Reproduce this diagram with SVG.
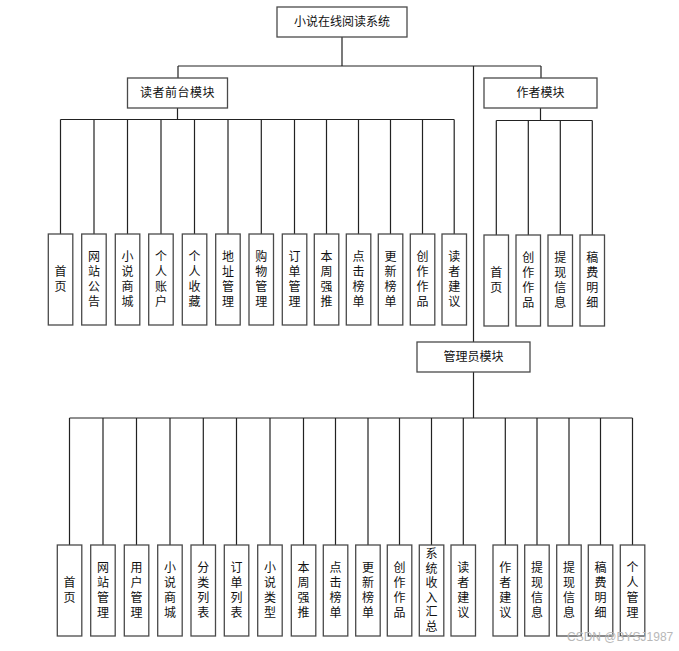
<svg xmlns="http://www.w3.org/2000/svg" width="679" height="651" viewBox="0 0 679 651" lang="zh-CN">
<style>
.box{fill:#fff;stroke:#4a4a4a;stroke-width:1.3}
.ln{fill:none;stroke:#222;stroke-width:1.2}
text{font-family:"Liberation Sans","Noto Sans CJK SC",sans-serif;font-size:12px;fill:#111;text-anchor:middle;dominant-baseline:central}
.wm{fill:#b8b8b8;font-family:"Liberation Sans",sans-serif;font-size:12px;text-anchor:start}
</style>
<rect width="679" height="651" fill="#fff"/>
<g id="connectors">
<path class="ln" d="M342 37V66M178 66H541M178 66V78M541 66V78M473.5 66V342"/>
<path class="ln" d="M177.5 108V119.5M60.5 119.5H454.2M60.5 119.5V234M94 119.5V234M127.5 119.5V234M161 119.5V234M194.5 119.5V234M228 119.5V234M261.3 119.5V234M294.5 119.5V234M326.5 119.5V234M358.5 119.5V234M390.5 119.5V234M422.5 119.5V234M454.2 119.5V234"/>
<path class="ln" d="M540.5 108V120.5M496.3 120.5H592.3M496.3 120.5V235M528.3 120.5V235M560.3 120.5V235M592.3 120.5V235"/>
<path class="ln" d="M473.5 372V418M69.5 418H632.5M69.5 418V545M103 418V545M136.5 418V545M170 418V545M203.3 418V545M236.5 418V545M270 418V545M303.5 418V545M335.5 418V545M368 418V545M399.5 418V545M431.5 418V545M463.3 418V545M505.3 418V545M537 418V545M569 418V545M600.5 418V545M632.5 418V545"/>
</g>
<g id="root"><rect class="box" x="277" y="7" width="130" height="30"/><text x="342" y="22">小说在线阅读系统</text></g>
<g id="reader"><rect class="box" x="127.5" y="78" width="100" height="30"/><text x="177.5" y="93" letter-spacing="0.5">读者前台模块</text></g>
<g id="author"><rect class="box" x="484" y="78" width="113" height="30"/><text x="540.5" y="93">作者模块</text></g>
<g id="admin"><rect class="box" x="417" y="342" width="113" height="30"/><text x="473.5" y="357">管理员模块</text></g>

<g id="r1"><rect class="box" x="48.3" y="234" width="24.5" height="91"/><text><tspan x="60.5" y="272">首</tspan><tspan x="60.5" y="287">页</tspan></text></g>
<g id="r2"><rect class="box" x="81.7" y="234" width="24.5" height="91"/><text><tspan x="94" y="257">网</tspan><tspan x="94" y="272">站</tspan><tspan x="94" y="287">公</tspan><tspan x="94" y="302">告</tspan></text></g>
<g id="r3"><rect class="box" x="115.3" y="234" width="24.5" height="91"/><text><tspan x="127.5" y="257">小</tspan><tspan x="127.5" y="272">说</tspan><tspan x="127.5" y="287">商</tspan><tspan x="127.5" y="302">城</tspan></text></g>
<g id="r4"><rect class="box" x="148.7" y="234" width="24.5" height="91"/><text><tspan x="161" y="257">个</tspan><tspan x="161" y="272">人</tspan><tspan x="161" y="287">账</tspan><tspan x="161" y="302">户</tspan></text></g>
<g id="r5"><rect class="box" x="182.3" y="234" width="24.5" height="91"/><text><tspan x="194.5" y="257">个</tspan><tspan x="194.5" y="272">人</tspan><tspan x="194.5" y="287">收</tspan><tspan x="194.5" y="302">藏</tspan></text></g>
<g id="r6"><rect class="box" x="215.7" y="234" width="24.5" height="91"/><text><tspan x="228" y="257">地</tspan><tspan x="228" y="272">址</tspan><tspan x="228" y="287">管</tspan><tspan x="228" y="302">理</tspan></text></g>
<g id="r7"><rect class="box" x="249" y="234" width="24.5" height="91"/><text><tspan x="261.3" y="257">购</tspan><tspan x="261.3" y="272">物</tspan><tspan x="261.3" y="287">管</tspan><tspan x="261.3" y="302">理</tspan></text></g>
<g id="r8"><rect class="box" x="282.3" y="234" width="24.5" height="91"/><text><tspan x="294.5" y="257">订</tspan><tspan x="294.5" y="272">单</tspan><tspan x="294.5" y="287">管</tspan><tspan x="294.5" y="302">理</tspan></text></g>
<g id="r9"><rect class="box" x="314.3" y="234" width="24.5" height="91"/><text><tspan x="326.5" y="257">本</tspan><tspan x="326.5" y="272">周</tspan><tspan x="326.5" y="287">强</tspan><tspan x="326.5" y="302">推</tspan></text></g>
<g id="r10"><rect class="box" x="346.3" y="234" width="24.5" height="91"/><text><tspan x="358.5" y="257">点</tspan><tspan x="358.5" y="272">击</tspan><tspan x="358.5" y="287">榜</tspan><tspan x="358.5" y="302">单</tspan></text></g>
<g id="r11"><rect class="box" x="378.3" y="234" width="24.5" height="91"/><text><tspan x="390.5" y="257">更</tspan><tspan x="390.5" y="272">新</tspan><tspan x="390.5" y="287">榜</tspan><tspan x="390.5" y="302">单</tspan></text></g>
<g id="r12"><rect class="box" x="410.3" y="234" width="24.5" height="91"/><text><tspan x="422.5" y="257">创</tspan><tspan x="422.5" y="272">作</tspan><tspan x="422.5" y="287">作</tspan><tspan x="422.5" y="302">品</tspan></text></g>
<g id="r13"><rect class="box" x="442" y="234" width="24.5" height="91"/><text><tspan x="454.2" y="257">读</tspan><tspan x="454.2" y="272">者</tspan><tspan x="454.2" y="287">建</tspan><tspan x="454.2" y="302">议</tspan></text></g>

<g id="a1"><rect class="box" x="484" y="235" width="24.5" height="91"/><text><tspan x="496.3" y="273">首</tspan><tspan x="496.3" y="288">页</tspan></text></g>
<g id="a2"><rect class="box" x="516" y="235" width="24.5" height="91"/><text><tspan x="528.3" y="258">创</tspan><tspan x="528.3" y="273">作</tspan><tspan x="528.3" y="288">作</tspan><tspan x="528.3" y="303">品</tspan></text></g>
<g id="a3"><rect class="box" x="548" y="235" width="24.5" height="91"/><text><tspan x="560.3" y="258">提</tspan><tspan x="560.3" y="273">现</tspan><tspan x="560.3" y="288">信</tspan><tspan x="560.3" y="303">息</tspan></text></g>
<g id="a4"><rect class="box" x="580" y="235" width="24.5" height="91"/><text><tspan x="592.3" y="258">稿</tspan><tspan x="592.3" y="273">费</tspan><tspan x="592.3" y="288">明</tspan><tspan x="592.3" y="303">细</tspan></text></g>

<g id="m1"><rect class="box" x="57.3" y="545" width="24.5" height="91"/><text><tspan x="69.5" y="583">首</tspan><tspan x="69.5" y="598">页</tspan></text></g>
<g id="m2"><rect class="box" x="90.7" y="545" width="24.5" height="91"/><text><tspan x="103" y="568">网</tspan><tspan x="103" y="583">站</tspan><tspan x="103" y="598">管</tspan><tspan x="103" y="613">理</tspan></text></g>
<g id="m3"><rect class="box" x="124.3" y="545" width="24.5" height="91"/><text><tspan x="136.5" y="568">用</tspan><tspan x="136.5" y="583">户</tspan><tspan x="136.5" y="598">管</tspan><tspan x="136.5" y="613">理</tspan></text></g>
<g id="m4"><rect class="box" x="157.7" y="545" width="24.5" height="91"/><text><tspan x="170" y="568">小</tspan><tspan x="170" y="583">说</tspan><tspan x="170" y="598">商</tspan><tspan x="170" y="613">城</tspan></text></g>
<g id="m5"><rect class="box" x="191" y="545" width="24.5" height="91"/><text><tspan x="203.3" y="568">分</tspan><tspan x="203.3" y="583">类</tspan><tspan x="203.3" y="598">列</tspan><tspan x="203.3" y="613">表</tspan></text></g>
<g id="m6"><rect class="box" x="224.3" y="545" width="24.5" height="91"/><text><tspan x="236.5" y="568">订</tspan><tspan x="236.5" y="583">单</tspan><tspan x="236.5" y="598">列</tspan><tspan x="236.5" y="613">表</tspan></text></g>
<g id="m7"><rect class="box" x="257.7" y="545" width="24.5" height="91"/><text><tspan x="270" y="568">小</tspan><tspan x="270" y="583">说</tspan><tspan x="270" y="598">类</tspan><tspan x="270" y="613">型</tspan></text></g>
<g id="m8"><rect class="box" x="291.3" y="545" width="24.5" height="91"/><text><tspan x="303.5" y="568">本</tspan><tspan x="303.5" y="583">周</tspan><tspan x="303.5" y="598">强</tspan><tspan x="303.5" y="613">推</tspan></text></g>
<g id="m9"><rect class="box" x="323.3" y="545" width="24.5" height="91"/><text><tspan x="335.5" y="568">点</tspan><tspan x="335.5" y="583">击</tspan><tspan x="335.5" y="598">榜</tspan><tspan x="335.5" y="613">单</tspan></text></g>
<g id="m10"><rect class="box" x="355.7" y="545" width="24.5" height="91"/><text><tspan x="368" y="568">更</tspan><tspan x="368" y="583">新</tspan><tspan x="368" y="598">榜</tspan><tspan x="368" y="613">单</tspan></text></g>
<g id="m11"><rect class="box" x="387.3" y="545" width="24.5" height="91"/><text><tspan x="399.5" y="568">创</tspan><tspan x="399.5" y="583">作</tspan><tspan x="399.5" y="598">作</tspan><tspan x="399.5" y="613">品</tspan></text></g>
<g id="m12"><rect class="box" x="419.3" y="545" width="24.5" height="91"/><text><tspan x="431.5" y="554.3">系</tspan><tspan x="431.5" y="568.8">统</tspan><tspan x="431.5" y="583.3">收</tspan><tspan x="431.5" y="597.8">入</tspan><tspan x="431.5" y="612.3">汇</tspan><tspan x="431.5" y="626.8">总</tspan></text></g>
<g id="m13"><rect class="box" x="451" y="545" width="24.5" height="91"/><text><tspan x="463.3" y="568">读</tspan><tspan x="463.3" y="583">者</tspan><tspan x="463.3" y="598">建</tspan><tspan x="463.3" y="613">议</tspan></text></g>
<g id="m14"><rect class="box" x="493" y="545" width="24.5" height="91"/><text><tspan x="505.3" y="568">作</tspan><tspan x="505.3" y="583">者</tspan><tspan x="505.3" y="598">建</tspan><tspan x="505.3" y="613">议</tspan></text></g>
<g id="m15"><rect class="box" x="524.7" y="545" width="24.5" height="91"/><text><tspan x="537" y="568">提</tspan><tspan x="537" y="583">现</tspan><tspan x="537" y="598">信</tspan><tspan x="537" y="613">息</tspan></text></g>
<g id="m16"><rect class="box" x="556.7" y="545" width="24.5" height="91"/><text><tspan x="569" y="568">提</tspan><tspan x="569" y="583">现</tspan><tspan x="569" y="598">信</tspan><tspan x="569" y="613">息</tspan></text></g>
<g id="m17"><rect class="box" x="588.3" y="545" width="24.5" height="91"/><text><tspan x="600.5" y="568">稿</tspan><tspan x="600.5" y="583">费</tspan><tspan x="600.5" y="598">明</tspan><tspan x="600.5" y="613">细</tspan></text></g>
<g id="m18"><rect class="box" x="620.3" y="545" width="24.5" height="91"/><text><tspan x="632.5" y="568">个</tspan><tspan x="632.5" y="583">人</tspan><tspan x="632.5" y="598">管</tspan><tspan x="632.5" y="613">理</tspan></text></g>

<text class="wm" x="567" y="637">CSDN @BYSJ1987</text>
</svg>
